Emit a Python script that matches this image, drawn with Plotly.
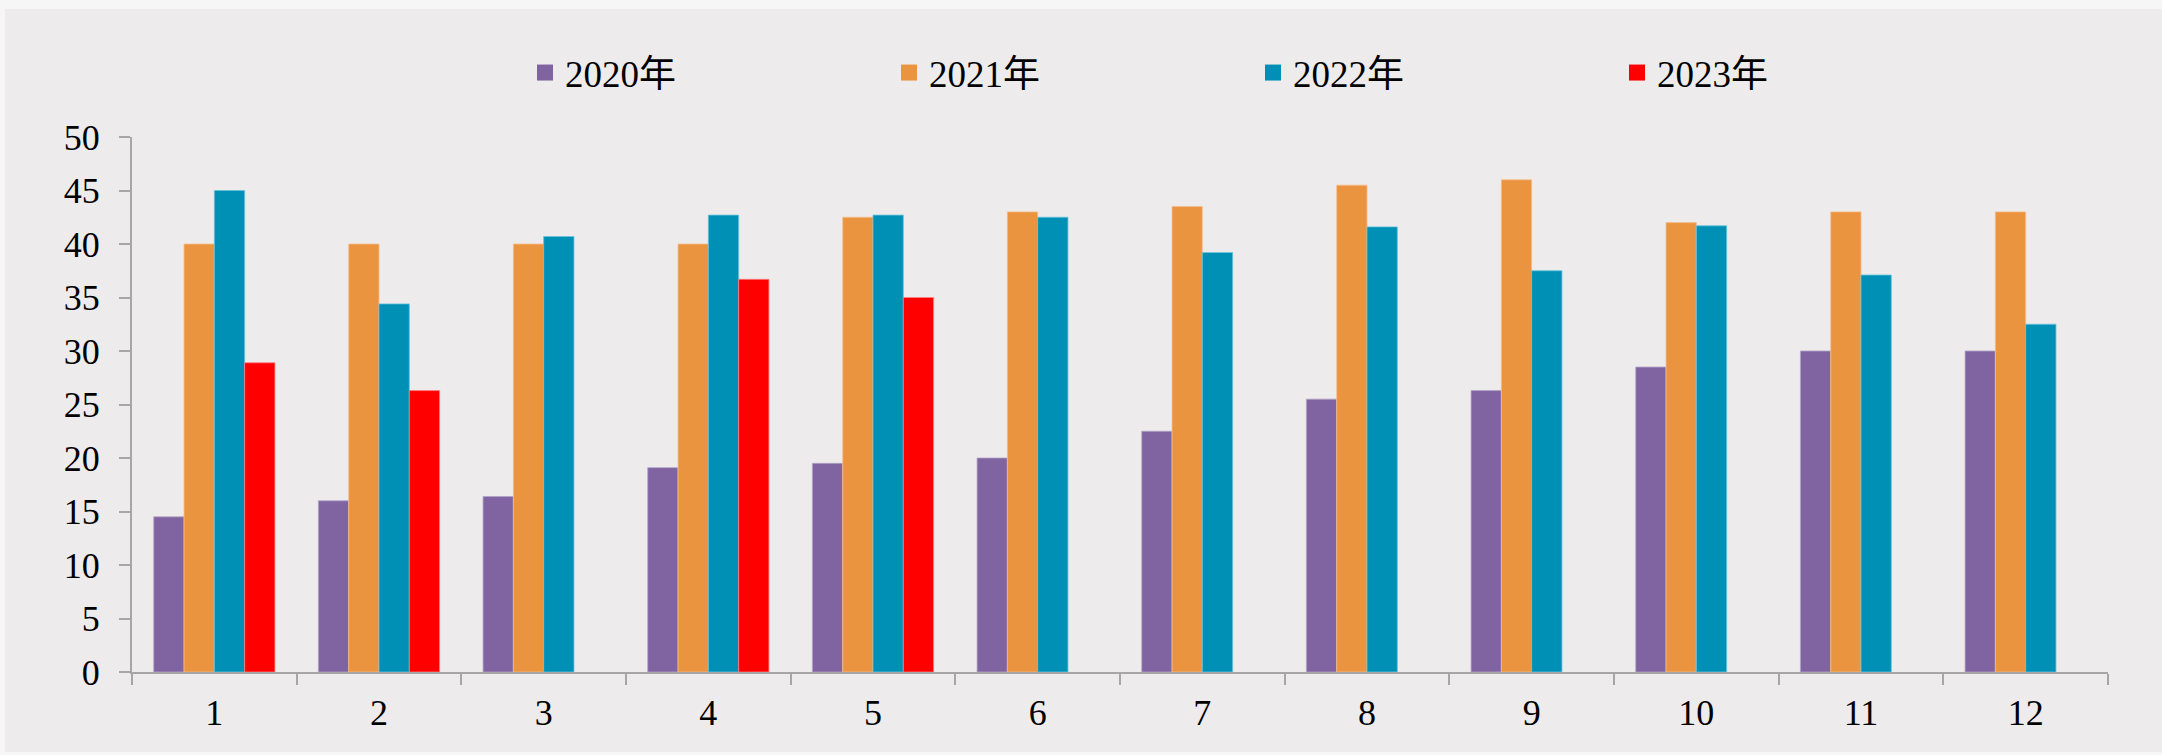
import plotly.graph_objects as go

months = ["1", "2", "3", "4", "5", "6", "7", "8", "9", "10", "11", "12"]
series_names = ["2020年", "2021年", "2022年", "2023年"]
v2020 = [14.5, 16.0, 16.4, 19.1, 19.5, 20.0, 22.5, 25.5, 26.3, 28.5, 30.0, 30.0]
v2021 = [40.0, 40.0, 40.0, 40.0, 42.5, 43.0, 43.5, 45.5, 46.0, 42.0, 43.0, 43.0]
v2022 = [45.0, 34.4, 40.7, 42.7, 42.7, 42.5, 39.2, 41.6, 37.5, 41.7, 37.1, 32.5]
v2023 = [28.9, 26.3, None, 36.7, 35.0, None, None, None, None, None, None, None]
y_ticks = [0, 5, 10, 15, 20, 25, 30, 35, 40, 45, 50]

colors = ["#8064A2", "#EB943F", "#0090B5", "#FF0000"]
edge_colors = ["#B3A2C7", "#F5BE8C", "#66C3DA", "#FF8080"]
values = [v2020, v2021, v2022, v2023]

FONT = "Liberation Serif, 'Noto Sans CJK SC', serif"

fig = go.Figure()
for name, vals, c, ec in zip(series_names, values, colors, edge_colors):
    fig.add_trace(go.Bar(
        x=months, y=vals, name=name, showlegend=False,
        marker=dict(color=c, line=dict(color=ec, width=0.8)),
    ))
for name, c in zip(series_names, colors):
    fig.add_trace(go.Scatter(
        x=[None], y=[None], mode="markers", name=name,
        marker=dict(symbol="square", size=16, color=c),
    ))

W, H = 2162, 755
ml, mr, mt, mb = 132, 54, 137, 83
pw = W - ml - mr
ph = H - mt - mb

def px_to_paper_x(px):
    return (px - ml) / pw

def py_to_paper_y(py):
    return (H - mb - py) / ph

fig.add_shape(
    type="rect", xref="paper", yref="paper", layer="below",
    x0=px_to_paper_x(5), x1=px_to_paper_x(2162),
    y0=py_to_paper_y(752), y1=py_to_paper_y(9),
    fillcolor="#EDEBEC", line=dict(width=0),
)

axis_color = "#A6A6A6"
fig.update_layout(
    width=W, height=H,
    margin=dict(l=ml, r=mr, t=mt, b=mb, autoexpand=False),
    paper_bgcolor="#F6F6F6",
    plot_bgcolor="rgba(0,0,0,0)",
    barmode="group", bargap=0.264, bargroupgap=0,
    font=dict(family=FONT, size=36, color="#000000"),
    showlegend=True,
    legend=dict(
        orientation="h", x=px_to_paper_x(525), xanchor="left",
        y=py_to_paper_y(73), yanchor="middle",
        entrywidth=319, entrywidthmode="pixels",
        font=dict(family=FONT, size=37, color="#000000"),
        bgcolor="rgba(0,0,0,0)",
    ),
    xaxis=dict(
        type="category", categoryorder="array", categoryarray=months,
        showline=True, linecolor=axis_color, linewidth=2,
        ticks="outside", tickson="boundaries", ticklen=11, tickwidth=2,
        tickcolor=axis_color, showgrid=False, zeroline=False,
        tickfont=dict(family=FONT, size=36),
        ticklabelstandoff=8,
        fixedrange=True,
    ),
    yaxis=dict(
        range=[0, 50], tickmode="array", tickvals=y_ticks,
        ticktext=[str(t) for t in y_ticks],
        showline=True, linecolor=axis_color, linewidth=2,
        ticks="outside", ticklen=11, tickwidth=2, tickcolor=axis_color,
        showgrid=False, zeroline=False,
        tickfont=dict(family=FONT, size=36),
        ticklabelstandoff=12,
        fixedrange=True,
    ),
)

fig.write_html(
    "out.html",
    config={"displayModeBar": False},
    post_script="document.body.style.margin='0';document.body.style.overflow='hidden';",
)
